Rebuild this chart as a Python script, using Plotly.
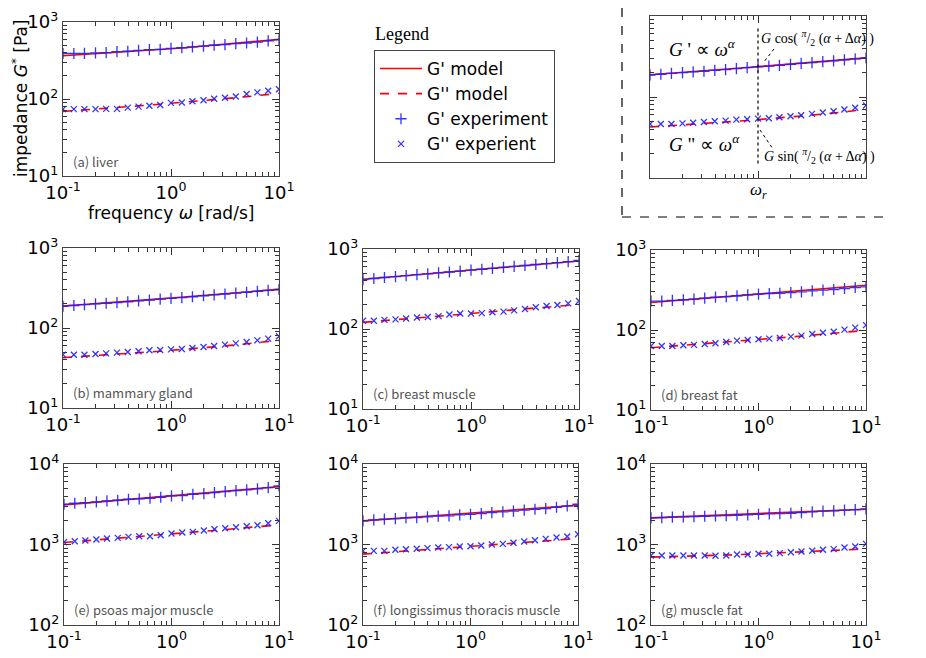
import plotly.graph_objects as go

# angular frequency (rad/s), same grid for every tissue
freq = [0.1, 0.126, 0.158, 0.2, 0.251, 0.316, 0.398, 0.501, 0.631, 0.794,
        1.0, 1.26, 1.58, 2.0, 2.51, 3.16, 3.98, 5.01, 6.31, 7.94, 10.0]

# (a) liver
liver_g1_model = [365, 372, 379, 386, 394, 403, 411, 420, 430, 440, 450,
                  460, 472, 484, 497, 511, 525, 542, 560, 578, 598]
liver_g2_model = [69.0, 70.5, 72.1, 73.8, 75.5, 77.3, 79.3, 81.3, 83.4, 85.5, 87.9,
                  90.2, 92.7, 95.3, 97.9, 100.9, 104.0, 107.2, 110.7, 114.6, 118.6]
liver_g1_exp = [390, 390, 391, 397, 401, 413, 417, 429, 437, 441, 454,
                463, 476, 485, 499, 509, 524, 534, 549, 570, 588]
liver_g2_exp = [73.8, 73.8, 73.8, 73.8, 74.5, 74.5, 77.3, 79.6, 81.9, 83.4, 89.1,
                90.1, 93.5, 96.2, 100.9, 104, 108, 116, 122, 128, 134]

# (b) mammary gland
mammary_g1_model = [188, 192, 196, 200, 205, 210, 215, 220, 225, 231, 237,
                    243, 248, 255, 261, 268, 275, 282, 289, 296, 304]
mammary_g2_model = [42.6, 43.4, 44.3, 45.1, 46.0, 47.0, 48.0, 49.0, 50.1, 51.3, 52.6,
                    53.8, 55.2, 56.6, 58.1, 59.7, 61.5, 63.4, 65.5, 67.6, 70.0]
mammary_g1_exp = [187, 191, 196, 200, 204, 208, 213, 218, 224, 230, 235,
                  240, 246, 253, 260, 266, 273, 280, 288, 295, 303]
mammary_g2_exp = [46.4, 46.4, 46.4, 47.3, 48.2, 49.2, 50.1, 51.1, 52.6, 53.1, 54.1,
                  54.7, 56.2, 57.9, 59.6, 61.9, 64.3, 66.8, 70.1, 73.6, 78.7]

# (c) breast muscle
bmuscle_g1_model = [418, 430, 441, 453, 465, 478, 491, 504, 518, 531, 546,
                    560, 575, 590, 605, 622, 638, 655, 673, 690, 708]
bmuscle_g2_model = [121, 124, 128, 131, 134, 138, 142, 145, 149, 153, 157,
                    161, 165, 169, 174, 179, 183, 188, 193, 198, 203]
bmuscle_g1_exp = [415, 428, 440, 452, 464, 477, 490, 502, 516, 530, 545,
                  558, 573, 590, 606, 622, 640, 656, 675, 695, 720]
bmuscle_g2_exp = [127, 127, 130, 132, 135, 139, 141, 145, 152, 156, 156,
                  158, 162, 165, 171, 178, 187, 194, 200, 209, 224]

# (d) breast fat
bfat_g1_model = [221, 226, 232, 238, 243, 249, 255, 262, 268, 275, 281,
                 288, 296, 303, 311, 320, 328, 337, 345, 354, 363]
bfat_g2_model = [60.0, 61.4, 62.7, 64.1, 65.6, 67.1, 68.7, 70.2, 71.8, 73.5, 75.2,
                 77.3, 79.4, 81.7, 83.9, 86.3, 88.7, 91.2, 93.8, 96.4, 99.1]
bfat_g1_exp = [230, 230, 234, 239, 243, 250, 257, 262, 268, 275, 281,
               286, 288, 294, 300, 309, 315, 321, 330, 340, 346]
bfat_g2_exp = [63.2, 63.2, 63.2, 64.4, 65.1, 66.9, 68.2, 70.9, 73.7, 75.1, 76.5,
               78.0, 79.5, 82.6, 85.0, 89.1, 92.6, 95.3, 101, 107, 115]

# (e) psoas major muscle
psoas_g1_model = [3105, 3184, 3266, 3350, 3436, 3532, 3622, 3715, 3811, 3908, 4009,
                  4121, 4227, 4345, 4457, 4581, 4710, 4831, 4966, 5093, 5236]
psoas_g2_model = [1059, 1084, 1112, 1138, 1164, 1194, 1222, 1250, 1279, 1312, 1343,
                  1380, 1416, 1455, 1493, 1535, 1578, 1618, 1663, 1706, 1754]
psoas_g1_exp = [3162, 3253, 3318, 3381, 3477, 3548, 3648, 3683, 3753, 3863, 4012,
                4050, 4207, 4285, 4416, 4540, 4667, 4764, 4898, 5093, 5337]
psoas_g2_exp = [1069, 1100, 1121, 1153, 1186, 1210, 1245, 1268, 1268, 1306, 1369,
                1409, 1435, 1492, 1550, 1594, 1640, 1687, 1737, 1838, 1965]

# (f) longissimus thoracis muscle
longis_g1_model = [1963, 2009, 2051, 2099, 2143, 2193, 2239, 2291, 2339, 2393, 2443,
                   2500, 2559, 2618, 2679, 2742, 2805, 2871, 2938, 3006, 3076]
longis_g2_model = [759, 776, 793, 811, 828, 847, 865, 885, 904, 925, 944,
                   966, 989, 1012, 1035, 1059, 1084, 1109, 1132, 1159, 1186]
longis_g1_exp = [1965, 2022, 2061, 2100, 2143, 2163, 2203, 2247, 2265, 2328, 2377,
                 2421, 2495, 2541, 2591, 2667, 2742, 2793, 2904, 3013, 3162]
longis_g2_exp = [834, 834, 834, 859, 875, 884, 901, 918, 927, 944, 953,
                 972, 1000, 1019, 1049, 1089, 1132, 1175, 1222, 1256, 1343]

# (g) muscle fat
mfat_g1_model = [2143, 2168, 2193, 2218, 2244, 2270, 2291, 2317, 2344, 2371, 2399,
                 2432, 2466, 2495, 2529, 2564, 2600, 2636, 2667, 2704, 2742]
mfat_g2_model = [697, 701, 708, 713, 719, 726, 733, 740, 748, 757, 766,
                 774, 783, 794, 805, 817, 828, 841, 855, 869, 883]
mfat_g1_exp = [2141, 2162, 2182, 2203, 2224, 2245, 2266, 2287, 2309, 2331, 2376,
               2400, 2422, 2445, 2493, 2541, 2591, 2615, 2667, 2718, 2770]
mfat_g2_exp = [731, 731, 731, 731, 731, 731, 724, 731, 752, 752, 766,
               766, 781, 803, 819, 835, 859, 876, 918, 945, 1019]

# reference frequency marked in the schematic
omega_r = 1.0

x_tickvals = [0.1, 1, 10]
x_ticktext = ["10<sup>-1</sup>", "10<sup>0</sup>", "10<sup>1</sup>"]
y_tickvals_low = [10, 100, 1000]
y_ticktext_low = ["10<sup>1</sup>", "10<sup>2</sup>", "10<sup>3</sup>"]
y_tickvals_high = [100, 1000, 10000]
y_ticktext_high = ["10<sup>2</sup>", "10<sup>3</sup>", "10<sup>4</sup>"]

tissues = [
    ("(a) liver", liver_g1_model, liver_g2_model, liver_g1_exp, liver_g2_exp, "low"),
    ("(b) mammary gland", mammary_g1_model, mammary_g2_model, mammary_g1_exp, mammary_g2_exp, "low"),
    ("(c) breast muscle", bmuscle_g1_model, bmuscle_g2_model, bmuscle_g1_exp, bmuscle_g2_exp, "low"),
    ("(d) breast fat", bfat_g1_model, bfat_g2_model, bfat_g1_exp, bfat_g2_exp, "low"),
    ("(e) psoas major muscle", psoas_g1_model, psoas_g2_model, psoas_g1_exp, psoas_g2_exp, "high"),
    ("(f) longissimus thoracis muscle", longis_g1_model, longis_g2_model, longis_g1_exp, longis_g2_exp, "high"),
    ("(g) muscle fat", mfat_g1_model, mfat_g2_model, mfat_g1_exp, mfat_g2_exp, "high"),
    ("", mammary_g1_model, mammary_g2_model, mammary_g1_exp, mammary_g2_exp, "low"),  # schematic
]

W, H = 926, 658
OFF = 8  # page body margin in the browser


def px(x):
    return (x - OFF) / W


def py(y):
    return 1 - (y - OFF) / H


# plot boxes in page pixels: left, right, top, bottom
boxes = [
    (63, 279, 22, 176),
    (63, 279, 248, 408),
    (363, 579, 249, 409),
    (651, 866, 250, 410),
    (64, 279, 464, 625),
    (363, 578, 464, 625),
    (651, 866, 464, 625),
    (650, 866, 16, 178),
]

BLUE = "rgba(30,30,255,0.9)"


def minor_vals(lo, hi):
    return [m * 10 ** e for e in range(lo, hi) for m in range(2, 10)]


def log_axis(rng, vals, text, minors, labels):
    return dict(
        type="log", range=rng, tickvals=vals, ticktext=text, automargin=False,
        ticklabeloverflow="allow",
        ticks="inside", ticklen=7, tickwidth=1, tickcolor="#333",
        showline=True, linecolor="#444", linewidth=1.3, mirror="allticks",
        showgrid=False, zeroline=False, showticklabels=labels,
        tickfont=dict(family="DejaVu Sans", size=18, color="black"),
        minor=dict(ticks="inside", ticklen=4, tickcolor="#333",
                   tickvals=minors, showgrid=False),
    )


fig = go.Figure()
layout = {}
annotations = []

for i, (label, g1m, g2m, g1e, g2e, scale) in enumerate(tissues):
    n = "" if i == 0 else str(i + 1)
    xa, ya = "x" + n, "y" + n
    first = i == 0
    fig.add_trace(go.Scatter(x=freq, y=g1m, mode="lines", name="G' model",
                             line=dict(color="red", width=1.6),
                             xaxis=xa, yaxis=ya, showlegend=first))
    fig.add_trace(go.Scatter(x=freq, y=g2m, mode="lines", name="G'' model",
                             line=dict(color="red", width=1.6, dash="dash"),
                             xaxis=xa, yaxis=ya, showlegend=first))
    fig.add_trace(go.Scatter(x=freq, y=g1e, mode="markers", name="G' experiment",
                             marker=dict(symbol="cross-thin", size=8,
                                         line=dict(color=BLUE, width=1.3)),
                             xaxis=xa, yaxis=ya, showlegend=first))
    fig.add_trace(go.Scatter(x=freq, y=g2e, mode="markers", name="G'' experient",
                             marker=dict(symbol="x-thin", size=6,
                                         line=dict(color=BLUE, width=1.3)),
                             xaxis=xa, yaxis=ya, showlegend=first))

    l, r, t, b = boxes[i]
    schematic = i == 7
    if scale == "low":
        yr, yv, yt, ym = [1, 3], y_tickvals_low, y_ticktext_low, minor_vals(1, 3)
    else:
        yr, yv, yt, ym = [2, 4], y_tickvals_high, y_ticktext_high, minor_vals(2, 4)

    xdict = log_axis([-1, 1], x_tickvals, x_ticktext, minor_vals(-1, 1), not schematic)
    xdict.update(domain=[px(l), px(r)], anchor=ya)
    ydict = log_axis(yr, yv, yt, ym, not schematic)
    ydict.update(domain=[py(b), py(t)], anchor=xa)
    layout["xaxis" + n] = xdict
    layout["yaxis" + n] = ydict

    if label:
        annotations.append(dict(
            text=label, xref=xa + " domain", yref=ya + " domain",
            x=0.035, y=0.095, xanchor="left", yanchor="middle", showarrow=False,
            font=dict(family="Noto Sans CJK JP", size=13, color="#555")))


def note(text, x, y, size, family, xanchor="center", angle=0):
    return dict(text=text, xref="paper", yref="paper", x=px(x), y=py(y),
                xanchor=xanchor, yanchor="middle", textangle=angle, showarrow=False,
                font=dict(family=family, size=size, color="black"))


# axis titles of panel (a)
annotations.append(note("frequency <i>ω</i> [rad/s]", 171, 213, 17, "DejaVu Sans"))
annotations.append(note("impedance <i>G</i><sup>*</sup> [Pa]", 20, 99, 17, "DejaVu Sans",
                        angle=-90))

# legend title
annotations.append(note("Legend", 373, 34, 18, "Liberation Serif", xanchor="left"))

# schematic labels
annotations += [
    note("<i>G</i> ' ∝ <i>ω</i><sup><i>α</i></sup>", 667, 48, 19, "Liberation Serif", "left"),
    note("<i>G</i> \" ∝ <i>ω</i><sup><i>α</i></sup>", 667, 143, 19, "Liberation Serif", "left"),
    note("<i>G</i> cos( <sup><i>π</i></sup>/<sub>2</sub> (<i>α</i> + Δ<i>α</i>) )",
         759, 38, 14, "Liberation Serif", "left"),
    note("<i>G</i> sin( <sup><i>π</i></sup>/<sub>2</sub> (<i>α</i> + Δ<i>α</i>) )",
         762, 156, 14, "Liberation Serif", "left"),
    note("<i>ω</i><sub><i>r</i></sub>", 758, 191, 17, "Liberation Serif"),
]

shapes = [
    # dashed frame around the schematic
    dict(type="line", xref="paper", yref="paper", x0=px(622), x1=px(622), y0=1, y1=py(217),
         line=dict(color="black", width=1.2, dash="dash")),
    dict(type="line", xref="paper", yref="paper", x0=px(622), x1=px(888),
         y0=py(217), y1=py(217), line=dict(color="black", width=1.2, dash="dash")),
    # reference frequency
    dict(type="line", xref="x8", yref="y8 domain", x0=omega_r, x1=omega_r, y0=0.09, y1=0.93,
         line=dict(color="black", width=1.2, dash="dot")),
    # leader lines
    dict(type="line", xref="paper", yref="paper", x0=px(774), x1=px(763),
         y0=py(49), y1=py(63), line=dict(color="black", width=1, dash="dot")),
    dict(type="line", xref="paper", yref="paper", x0=px(760), x1=px(773),
         y0=py(130), y1=py(149), line=dict(color="black", width=1, dash="dot")),
]

fig.update_layout(
    width=W, height=H, margin=dict(l=0, r=0, t=0, b=0),
    paper_bgcolor="white", plot_bgcolor="white",
    annotations=annotations, shapes=shapes,
    legend=dict(x=px(374), y=py(50), xanchor="left", yanchor="top",
                bordercolor="#444", borderwidth=1, bgcolor="white",
                itemwidth=42, tracegroupgap=0,
                font=dict(family="DejaVu Sans", size=17, color="black")),
    **layout,
)

fig.write_html("out.html")
